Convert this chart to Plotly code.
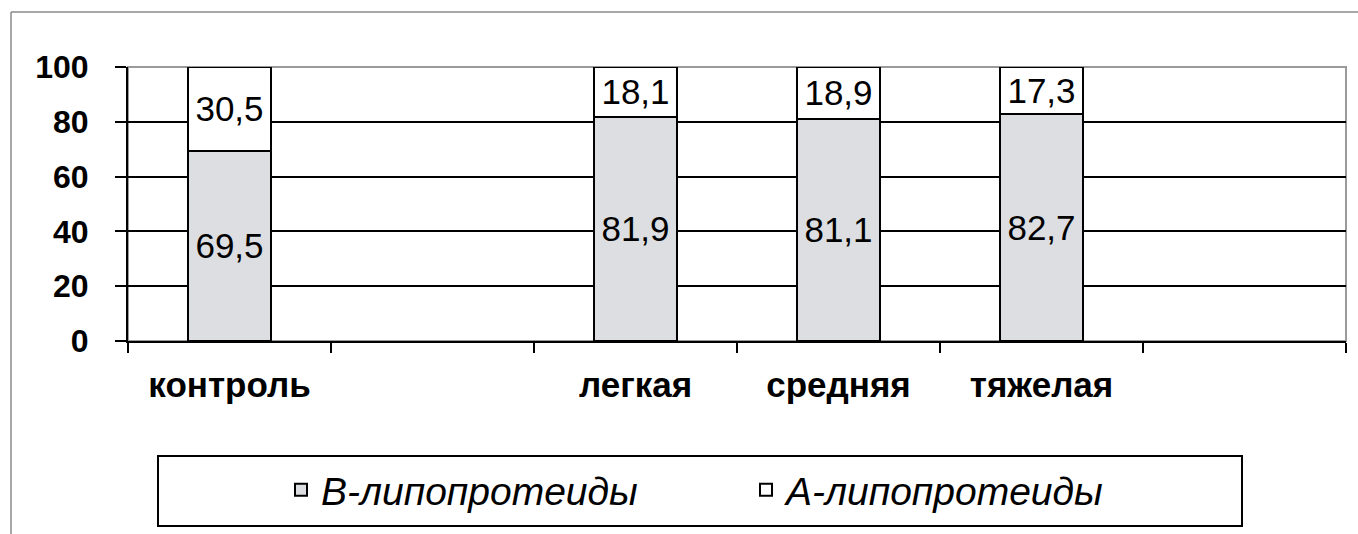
import plotly.graph_objects as go

# Category slots along the x axis (two slots are left empty)
slots = ["контроль", " ", "легкая", "средняя", "тяжелая", "  "]
groups = ["контроль", "легкая", "средняя", "тяжелая"]
b_lipo = [69.5, 81.9, 81.1, 82.7]
a_lipo = [30.5, 18.1, 18.9, 17.3]
y_ticks = [0, 20, 40, 60, 80, 100]

FONT = "Liberation Sans, Arial, sans-serif"

fig = go.Figure()
fig.add_trace(go.Bar(
    x=groups, y=b_lipo, name="B-липопротеиды",
    marker=dict(color="#dcdee1", line=dict(color="black", width=2)),
    texttemplate="%{y:.1f}", textposition="inside", insidetextanchor="middle",
    textangle=0, textfont=dict(family=FONT, size=35, color="black"),
))
fig.add_trace(go.Bar(
    x=groups, y=a_lipo, name="A-липопротеиды",
    marker=dict(color="white", line=dict(color="black", width=2)),
    texttemplate="%{y:.1f}", textposition="inside", insidetextanchor="middle",
    textangle=0, textfont=dict(family=FONT, size=35, color="black"),
))

L, R, T, B = 128, 12, 67, 193
W, H = 1358, 534
pw, ph = W - L - R, H - T - B


def px_x(px):
    return (px - L) / pw


def px_y(py):
    return (H - B - py) / ph


shapes = [
    # plot-area frame (grey top and right edges)
    dict(type="rect", xref="paper", yref="paper", x0=0, x1=1, y0=0, y1=1,
         line=dict(color="#9a9a9a", width=2), layer="below"),
    # outer chart frame
    dict(type="line", xref="paper", yref="paper", x0=px_x(11), x1=px_x(1400),
         y0=px_y(12), y1=px_y(12), line=dict(color="#8a8a8a", width=1.5)),
    dict(type="line", xref="paper", yref="paper", x0=px_x(11), x1=px_x(11),
         y0=px_y(12), y1=px_y(600), line=dict(color="#8a8a8a", width=1.5)),
    # legend box
    dict(type="rect", xref="paper", yref="paper", x0=px_x(158), x1=px_x(1242),
         y0=px_y(526), y1=px_y(456), line=dict(color="black", width=2)),
]

fig.update_layout(
    width=W, height=H,
    margin=dict(l=L, r=R, t=T, b=B, autoexpand=False),
    barmode="stack", bargap=0.59,
    separators=", ",
    plot_bgcolor="white", paper_bgcolor="white",
    font=dict(family=FONT, color="black"),
    shapes=shapes,
    showlegend=True,
    legend=dict(
        orientation="h", x=px_x(281), xanchor="left", y=px_y(490), yanchor="middle",
        font=dict(family=FONT, size=39, style="italic", color="black"),
        entrywidth=420, entrywidthmode="pixels",
        bgcolor="rgba(0,0,0,0)", borderwidth=0, traceorder="normal",
    ),
    xaxis=dict(
        type="category", categoryorder="array", categoryarray=slots,
        range=[-0.5, 5.5], tickson="boundaries",
        ticks="outside", ticklen=10, tickwidth=2, tickcolor="black",
        showline=True, linecolor="black", linewidth=2, showgrid=False,
        tickfont=dict(family=FONT, size=35, color="black", weight="bold"),
        ticklabelstandoff=12, fixedrange=True,
    ),
    yaxis=dict(
        range=[0, 100], tickvals=y_ticks,
        ticks="outside", ticklen=11, tickwidth=2, tickcolor="black",
        showline=True, linecolor="black", linewidth=2,
        showgrid=True, gridcolor="black", gridwidth=2, zeroline=False,
        tickfont=dict(family=FONT, size=32, color="black", weight="bold"),
        ticklabelstandoff=20, fixedrange=True,
    ),
)

fig.write_html("out.html")
